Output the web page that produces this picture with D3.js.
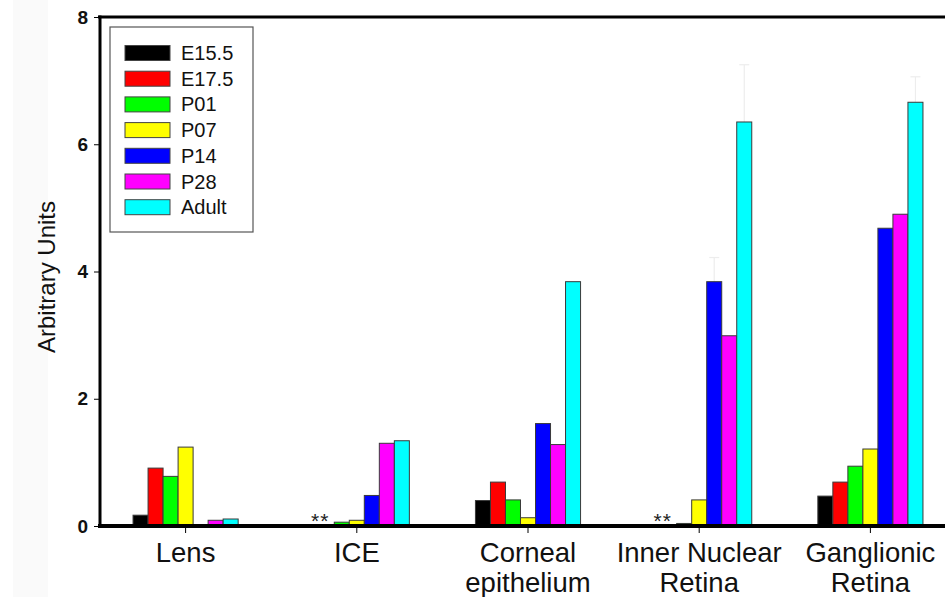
<!DOCTYPE html>
<html lang="en">
<head>
    <meta charset="UTF-8">
    <title>Arbitrary Units by tissue</title>
    <script src="https://d3js.org/d3.v7.min.js"></script>
    <style>
        body { margin: 0; background: #fff; }
        text { font-family: "Liberation Sans", Arial, sans-serif; }
    </style>
</head>
<body>
    <svg id="chart" width="945" height="597"></svg>

    <script>
        // Data
        const categories = ['Lens', 'ICE', 'Corneal epithelium', 'Inner Nuclear Retina', 'Ganglionic Retina'];
        const categoryLines = [['Lens'], ['ICE'], ['Corneal', 'epithelium'], ['Inner Nuclear', 'Retina'], ['Ganglionic', 'Retina']];
        const series = ['E15.5', 'E17.5', 'P01', 'P07', 'P14', 'P28', 'Adult'];
        const seriesColors = ['#000000', '#ff0000', '#00ff00', '#ffff00', '#0000ff', '#ff00ff', '#00ffff'];

        const e155 = [0.17, 0, 0.40, 0, 0.47];
        const e175 = [0.91, 0, 0.69, 0, 0.69];
        const p01 = [0.78, 0.06, 0.41, 0.04, 0.94];
        const p07 = [1.24, 0.09, 0.13, 0.41, 1.21];
        const p14 = [0, 0.48, 1.61, 3.84, 4.68];
        const p28 = [0.09, 1.30, 1.28, 2.99, 4.90];
        const adult = [0.11, 1.34, 3.84, 6.35, 6.66];
        const seriesValues = [e155, e175, p01, p07, p14, p28, adult];

        // faint error bars (only the ones still visible)
        const adultErr = [0, 0, 0, 0.9, 0.4];
        const p14Err = [0, 0, 0, 0.38, 0];

        const starCategories = ['ICE', 'Inner Nuclear Retina'];
        const yTicks = [0, 2, 4, 6, 8];

        const svg = d3.select('#chart');

        // faint grey strip on the far left of the scan
        svg.append('rect').attr('x', 13).attr('y', 0).attr('width', 35).attr('height', 597).attr('fill', '#fafafa');

        const x0 = d3.scaleBand().domain(categories).range([100, 956]).paddingInner(0.386).paddingOuter(0.193);
        const x1 = d3.scaleBand().domain(series).range([0, x0.bandwidth()]);
        const y = d3.scaleLinear().domain([0, 8]).range([526, 17]);

        // error bars behind the bars
        const errRows = [];
        categories.forEach((c, i) => {
            if (adultErr[i] > 0) errRows.push({ c, s: 'Adult', v: adult[i], e: adultErr[i] });
            if (p14Err[i] > 0) errRows.push({ c, s: 'P14', v: p14[i], e: p14Err[i] });
        });
        const errG = svg.append('g').attr('stroke', '#ededed').attr('stroke-width', 1.2);
        errRows.forEach(d => {
            const cx = x0(d.c) + x1(d.s) + x1.bandwidth() / 2;
            errG.append('line').attr('x1', cx).attr('x2', cx).attr('y1', y(d.v)).attr('y2', y(d.v + d.e));
            errG.append('line').attr('x1', cx - 5).attr('x2', cx + 5).attr('y1', y(d.v + d.e)).attr('y2', y(d.v + d.e));
        });

        // bars
        series.forEach((s, si) => {
            svg.append('g')
                .selectAll('rect')
                .data(categories.map((c, ci) => ({ c, v: seriesValues[si][ci] })).filter(d => d.v > 0))
                .join('rect')
                .attr('x', d => x0(d.c) + x1(s))
                .attr('y', d => y(d.v))
                .attr('width', x1.bandwidth())
                .attr('height', d => y(0) - y(d.v))
                .attr('fill', seriesColors[si])
                .attr('stroke', '#3a3a3a')
                .attr('stroke-width', 1);
        });

        // asterisks
        svg.append('g').selectAll('text')
            .data(starCategories)
            .join('text')
            .attr('x', d => x0(d) + x1('E17.5') + 1)
            .attr('y', y(0) + 2)
            .attr('text-anchor', 'middle')
            .attr('font-size', 21)
            .attr('letter-spacing', 1)
            .attr('fill', '#222')
            .text('**');

        // top frame line
        svg.append('line').attr('x1', 98).attr('x2', 945).attr('y1', 17).attr('y2', 17)
            .attr('stroke', '#000').attr('stroke-width', 3);

        // y axis
        const yAxis = svg.append('g')
            .attr('transform', 'translate(100,0)')
            .call(d3.axisLeft(y).tickValues(yTicks).tickSize(6).tickPadding(6));
        yAxis.select('.domain').attr('stroke-width', 3).attr('d', `M0,${y(8) - 1.5}V${y(0) + 2}`);
        yAxis.selectAll('.tick line').attr('stroke-width', 1);
        yAxis.selectAll('.tick text')
            .attr('font-size', 19)
            .attr('font-weight', 'bold')
            .attr('font-family', '"Liberation Sans", Arial, sans-serif')
            .attr('fill', '#111');

        // x axis
        const xAxis = svg.append('g')
            .attr('transform', `translate(0,${y(0)})`)
            .call(d3.axisBottom(x0).tickSize(5).tickFormat(''));
        xAxis.select('.domain').attr('stroke-width', 4).attr('d', 'M98,0H945');
        xAxis.selectAll('.tick line').attr('stroke-width', 1).attr('y1', 2).attr('y2', 7);

        categories.forEach((c, i) => {
            const t = svg.append('text')
                .attr('x', x0(c) + x0.bandwidth() / 2)
                .attr('y', 562)
                .attr('text-anchor', 'middle')
                .attr('font-size', 27.5)
                .attr('fill', '#111');
            categoryLines[i].forEach((line, li) => {
                t.append('tspan')
                    .attr('x', x0(c) + x0.bandwidth() / 2)
                    .attr('dy', li === 0 ? 0 : 30)
                    .text(line);
            });
        });

        // y axis title
        svg.append('text')
            .attr('transform', 'translate(55,277) rotate(-90)')
            .attr('text-anchor', 'middle')
            .attr('font-size', 24)
            .attr('fill', '#111')
            .text('Arbitrary Units');

        // legend
        const legend = svg.append('g');
        legend.append('rect')
            .attr('x', 110).attr('y', 27).attr('width', 143).attr('height', 205)
            .attr('fill', '#fff').attr('stroke', '#555').attr('stroke-width', 1.2);
        series.forEach((s, i) => {
            const cy = 53 + i * 25.7;
            legend.append('rect')
                .attr('x', 125).attr('y', cy - 7.5).attr('width', 45).attr('height', 15)
                .attr('fill', seriesColors[i]).attr('stroke', '#444').attr('stroke-width', 1);
            legend.append('text')
                .attr('x', 181).attr('y', cy + 7)
                .attr('font-size', 20)
                .attr('fill', '#111')
                .text(s);
        });
    </script>
</body>
</html>
